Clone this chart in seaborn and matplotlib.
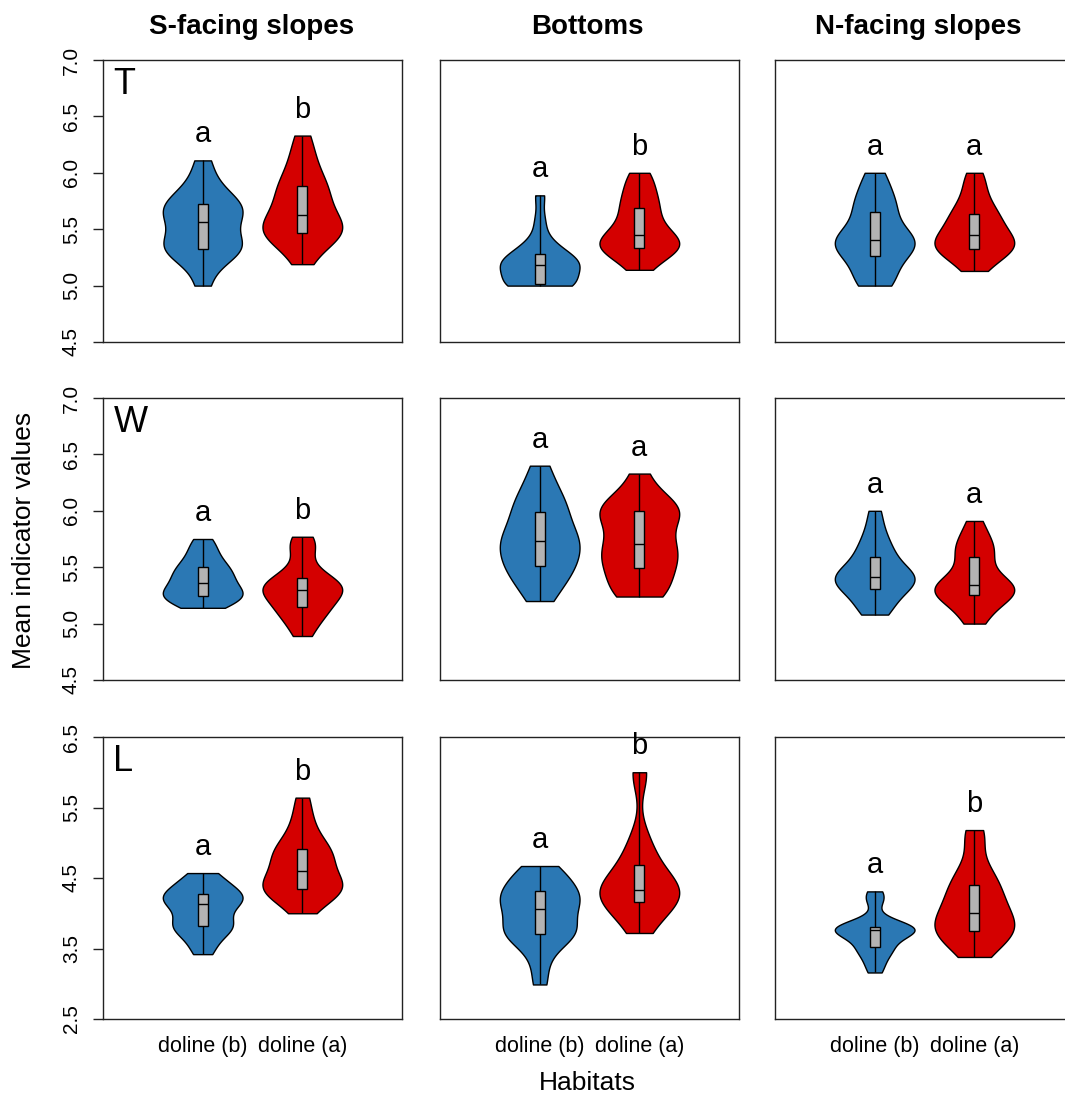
import matplotlib
matplotlib.use("Agg")
import matplotlib.pyplot as plt
import seaborn as sns
import pandas as pd

habitats = ["doline (b)", "doline (a)"]
aspects = ["S-facing slopes", "Bottoms", "N-facing slopes"]
indicators = ["T", "W", "L"]

# T values (S-facing, bottoms, N-facing) for doline (b) / doline (a)
t_s_b = [5.00, 5.18, 5.26, 5.31, 5.32, 5.33, 5.38, 5.40, 5.45, 5.54, 5.58, 5.62, 5.65, 5.68, 5.72, 5.74, 5.78, 5.85, 5.95, 6.11]
t_s_a = [5.19, 5.32, 5.40, 5.44, 5.45, 5.47, 5.50, 5.53, 5.56, 5.60, 5.66, 5.70, 5.76, 5.82, 5.88, 5.90, 5.98, 6.08, 6.18, 6.33]
t_b_b = [5.00, 5.00, 5.00, 5.00, 5.00, 5.02, 5.10, 5.13, 5.16, 5.17, 5.19, 5.20, 5.22, 5.24, 5.27, 5.31, 5.34, 5.42, 5.58, 5.80]
t_b_a = [5.14, 5.22, 5.28, 5.31, 5.33, 5.34, 5.36, 5.38, 5.40, 5.43, 5.47, 5.50, 5.55, 5.62, 5.68, 5.72, 5.78, 5.85, 5.93, 6.00]
t_n_b = [5.00, 5.02, 5.08, 5.15, 5.25, 5.27, 5.32, 5.36, 5.38, 5.39, 5.41, 5.43, 5.47, 5.55, 5.64, 5.68, 5.74, 5.80, 5.90, 6.00]
t_n_a = [5.13, 5.20, 5.26, 5.30, 5.32, 5.33, 5.36, 5.38, 5.40, 5.43, 5.47, 5.50, 5.54, 5.58, 5.63, 5.66, 5.72, 5.80, 5.90, 6.00]

# W values
w_s_b = [5.14, 5.16, 5.20, 5.22, 5.24, 5.25, 5.27, 5.29, 5.31, 5.34, 5.38, 5.40, 5.43, 5.46, 5.49, 5.52, 5.56, 5.62, 5.68, 5.75]
w_s_a = [4.89, 4.98, 5.05, 5.10, 5.13, 5.15, 5.20, 5.25, 5.28, 5.29, 5.31, 5.32, 5.34, 5.36, 5.40, 5.43, 5.50, 5.66, 5.70, 5.77]
w_b_b = [5.20, 5.30, 5.38, 5.45, 5.49, 5.52, 5.58, 5.63, 5.68, 5.72, 5.74, 5.78, 5.83, 5.90, 5.98, 6.02, 6.08, 6.15, 6.25, 6.40]
w_b_a = [5.24, 5.26, 5.30, 5.38, 5.47, 5.50, 5.55, 5.60, 5.66, 5.70, 5.72, 5.80, 5.92, 5.96, 5.99, 6.01, 6.03, 6.06, 6.15, 6.33]
w_n_b = [5.08, 5.12, 5.18, 5.25, 5.29, 5.31, 5.35, 5.38, 5.40, 5.41, 5.42, 5.44, 5.47, 5.52, 5.58, 5.62, 5.68, 5.75, 5.85, 6.00]
w_n_a = [5.00, 5.08, 5.15, 5.20, 5.24, 5.26, 5.28, 5.30, 5.31, 5.33, 5.35, 5.38, 5.42, 5.50, 5.58, 5.63, 5.68, 5.72, 5.80, 5.91]

# L values
l_s_b = [3.42, 3.55, 3.68, 3.76, 3.80, 3.82, 3.86, 3.92, 4.02, 4.10, 4.15, 4.18, 4.20, 4.23, 4.27, 4.30, 4.35, 4.42, 4.50, 4.57]
l_s_a = [4.00, 4.15, 4.25, 4.30, 4.33, 4.35, 4.38, 4.42, 4.48, 4.56, 4.64, 4.70, 4.78, 4.85, 4.90, 4.94, 5.05, 5.20, 5.38, 5.64]
l_b_b = [2.99, 3.30, 3.55, 3.65, 3.68, 3.72, 3.78, 3.82, 3.90, 4.02, 4.10, 4.15, 4.18, 4.22, 4.30, 4.35, 4.42, 4.50, 4.60, 4.67]
l_b_a = [3.72, 3.85, 3.98, 4.08, 4.14, 4.16, 4.22, 4.27, 4.30, 4.32, 4.33, 4.36, 4.42, 4.50, 4.60, 4.68, 4.80, 4.95, 5.12, 5.97, 6.00]
l_n_b = [3.16, 3.25, 3.35, 3.45, 3.49, 3.51, 3.53, 3.62, 3.72, 3.74, 3.75, 3.76, 3.76, 3.77, 3.78, 3.79, 3.80, 3.81, 3.82, 3.86, 4.18, 4.22, 4.31]
l_n_a = [3.38, 3.50, 3.60, 3.68, 3.73, 3.76, 3.80, 3.85, 3.90, 3.97, 4.05, 4.12, 4.20, 4.28, 4.38, 4.45, 4.55, 4.70, 5.05, 5.18]

groups = {
    "T": [(t_s_b, t_s_a), (t_b_b, t_b_a), (t_n_b, t_n_a)],
    "W": [(w_s_b, w_s_a), (w_b_b, w_b_a), (w_n_b, w_n_a)],
    "L": [(l_s_b, l_s_a), (l_b_b, l_b_a), (l_n_b, l_n_a)],
}
letters = {
    "T": [("a", "b"), ("a", "b"), ("a", "a")],
    "W": [("a", "b"), ("a", "a"), ("a", "a")],
    "L": [("a", "b"), ("a", "b"), ("a", "b")],
}
y_ranges = {"T": (4.5, 7.0, 0.5), "W": (4.5, 7.0, 0.5), "L": (2.5, 6.5, 1.0)}

palette = {"doline (b)": "#2B78B4", "doline (a)": "#D40000"}

sns.set_style("white")
plt.rcParams["font.family"] = ["Liberation Sans", "DejaVu Sans"]
plt.rcParams["text.color"] = "black"
plt.rcParams["xtick.color"] = "black"
plt.rcParams["ytick.color"] = "black"
plt.rcParams["axes.labelcolor"] = "black"

W, H = 1065, 1097
fig = plt.figure(figsize=(W / 100, H / 100), dpi=100)
lefts = [103, 440, 775]
tops = [60, 398, 737]
pw, ph = 299, 282

for i, ind in enumerate(indicators):
    for j, asp in enumerate(aspects):
        ax = fig.add_axes([lefts[j] / W, 1 - (tops[i] + ph) / H, pw / W, ph / H])
        b, a = groups[ind][j]
        df = pd.DataFrame({"Habitat": [habitats[0]] * len(b) + [habitats[1]] * len(a),
                           "value": b + a})
        sns.violinplot(data=df, x="Habitat", y="value", hue="Habitat", order=habitats,
                       hue_order=habitats, palette=palette, saturation=1, cut=0,
                       inner=None, density_norm="width", width=0.8, bw_adjust=0.8,
                       linewidth=1, linecolor="black", legend=False, ax=ax)
        sns.boxplot(data=df, x="Habitat", y="value", order=habitats, width=0.1,
                    whis=(0, 100), showfliers=False, showcaps=False, color="#B3B3B3",
                    saturation=1, linecolor="black", linewidth=1, ax=ax)
        for k, vals in enumerate([b, a]):
            ax.annotate(letters[ind][j][k], xy=(k, max(vals)), xytext=(0, 13),
                        textcoords="offset points", ha="center", va="baseline", fontsize=21)
        lo, hi, step = y_ranges[ind]
        ax.set_ylim(lo, hi)
        ax.set_xlim(-1, 2)
        ax.set_xlabel("")
        ax.set_ylabel("")
        for sp in ax.spines.values():
            sp.set_color("#222222")
            sp.set_linewidth(1)
        if j == 0:
            ticks = [lo + step * n for n in range(int(round((hi - lo) / step)) + 1)]
            ax.set_yticks(ticks, [f"{t:.1f}" for t in ticks])
            ax.tick_params(axis="y", left=True, length=7, width=1, color="#222222",
                           labelsize=15, labelrotation=90, pad=9)
            for lab in ax.get_yticklabels():
                lab.set_va("center")
            ax.text(0.035, 0.975, ind, transform=ax.transAxes, ha="left", va="top", fontsize=26)
        else:
            ax.set_yticks([])
        if i == 2:
            ax.set_xticks([0, 1], habitats)
            ax.tick_params(axis="x", length=0, labelsize=15.5, pad=12)
        else:
            ax.set_xticks([])

title_x = [252, 587, 918]
for j, asp in enumerate(aspects):
    fig.text(title_x[j] / W, 1 - 27 / H, asp, ha="center", va="center",
             fontweight="bold", fontsize=20)
fig.text(24 / W, 1 - 540 / H, "Mean indicator values", rotation=90, ha="center",
         va="center", fontsize=19)
fig.text(587 / W, 1 - 1083 / H, "Habitats", ha="center", va="center", fontsize=19)

fig.savefig("out.png", dpi=100)
